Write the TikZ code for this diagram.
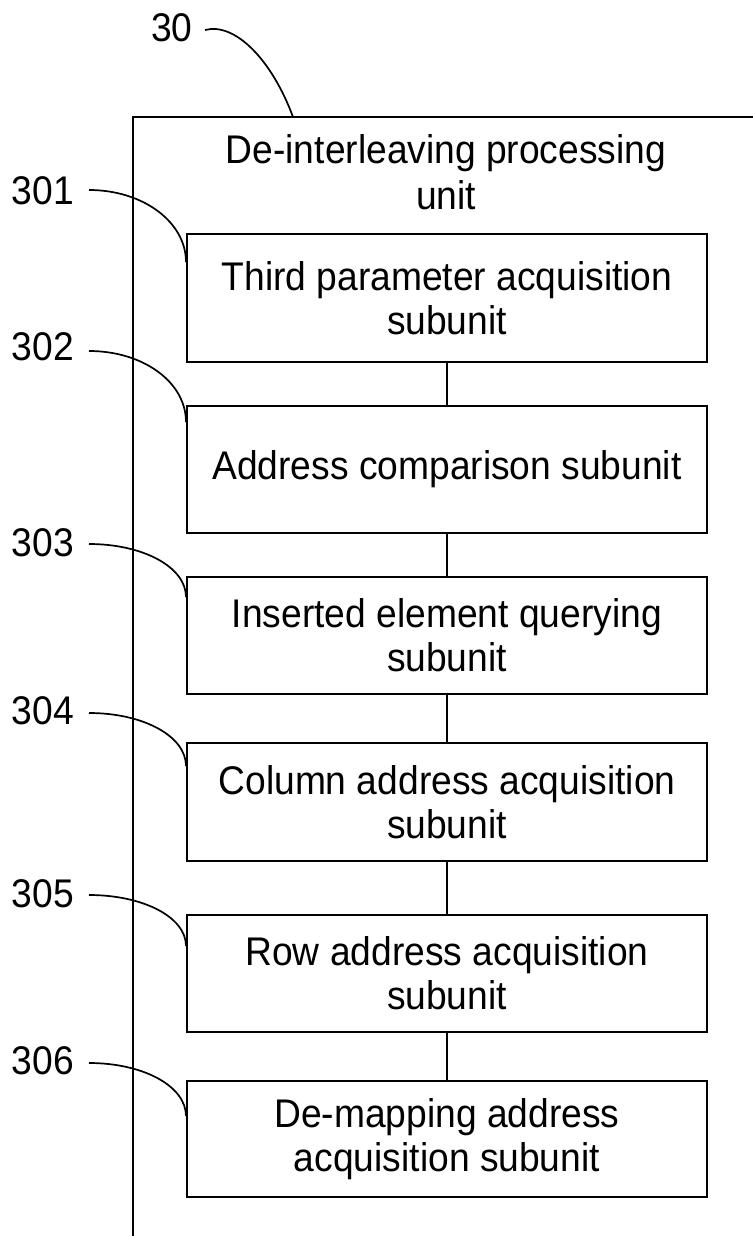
\documentclass[tikz,border=0pt]{standalone}
\usepackage{fontspec}
\setmainfont{Liberation Sans}[FakeStretch=0.93]
\usetikzlibrary{calc}
\tikzset{
  subbox/.style={draw=black, line width=2pt, minimum width=520pt, align=center,
    inner sep=0pt, font=\fontsize{40}{44}\selectfont},
  lbl/.style={font=\fontsize{40}{44}\selectfont, inner sep=0pt},
  leader/.style={line width=1.7pt},
  frame/.style={line width=2pt},
  link/.style={line width=1.7pt}
}
\begin{document}
\begin{tikzpicture}[x=1pt,y=-1pt]
\useasboundingbox (0,0) rectangle (752,1236);
\fill[white] (0,0) rectangle (752,1236);

% outer frame (open at right and bottom)
\coordinate (fr) at (760,117);
\coordinate (ftl) at (133,117);
\coordinate (fb) at (133,1240);
\draw[frame] (fr) -- (ftl) -- (fb);

\node[lbl, align=center, font=\fontsize{40}{46}\selectfont] (title) at (446,172) {De-interleaving processing\\unit};

% sub-unit boxes
\node[subbox, minimum height=128pt] (b1) at (447,298) {Third parameter acquisition\\subunit};
\node[subbox, minimum height=127pt] (b2) at (447,469.5) {Address comparison subunit};
\node[subbox, minimum height=117pt] (b3) at (447,635.5) {Inserted element querying\\subunit};
\node[subbox, minimum height=118pt] (b4) at (447,802) {Column address acquisition\\subunit};
\node[subbox, minimum height=117pt] (b5) at (447,973.5) {Row address acquisition\\subunit};
\node[subbox, minimum height=116pt] (b6) at (447,1139) {De-mapping address\\acquisition subunit};

\draw[link] (b1.south) -- (b2.north);
\draw[link] (b2.south) -- (b3.north);
\draw[link] (b3.south) -- (b4.north);
\draw[link] (b4.south) -- (b5.north);
\draw[link] (b5.south) -- (b6.north);

% reference numerals
\node[lbl] (t30) at (172,28) {30};
\node[lbl] (t301) at (43,191) {301};
\node[lbl] (t302) at (43,347) {302};
\node[lbl] (t303) at (43,543) {303};
\node[lbl] (t304) at (43,711) {304};
\node[lbl] (t305) at (43,894) {305};
\node[lbl] (t306) at (43,1061) {306};

\coordinate (s30) at (205,30);
\coordinate (e30) at (293,117);
\draw[leader] (s30) .. controls (235,22) and (272,60) .. (e30);

\coordinate (s301) at (89,190);
\coordinate (s302) at (89,351);
\coordinate (s303) at (89,544);
\coordinate (s304) at (89,713);
\coordinate (s305) at (89,895);
\coordinate (s306) at (89,1063);

\draw[leader] (s301) .. controls +(54,0) and +(0,-40) .. ($(b1.north west)+(0,29)$);
\draw[leader] (s302) .. controls +(54,0) and +(0,-40) .. ($(b2.north west)+(0,17)$);
\draw[leader] (s303) .. controls +(54,0) and +(0,-30) .. ($(b3.north west)+(0,21)$);
\draw[leader] (s304) .. controls +(54,0) and +(0,-30) .. ($(b4.north west)+(0,24)$);
\draw[leader] (s305) .. controls +(54,0) and +(0,-29) .. ($(b5.north west)+(0,32)$);
\draw[leader] (s306) .. controls +(54,0) and +(0,-30) .. ($(b6.north west)+(0,36)$);
\end{tikzpicture}
\end{document}
